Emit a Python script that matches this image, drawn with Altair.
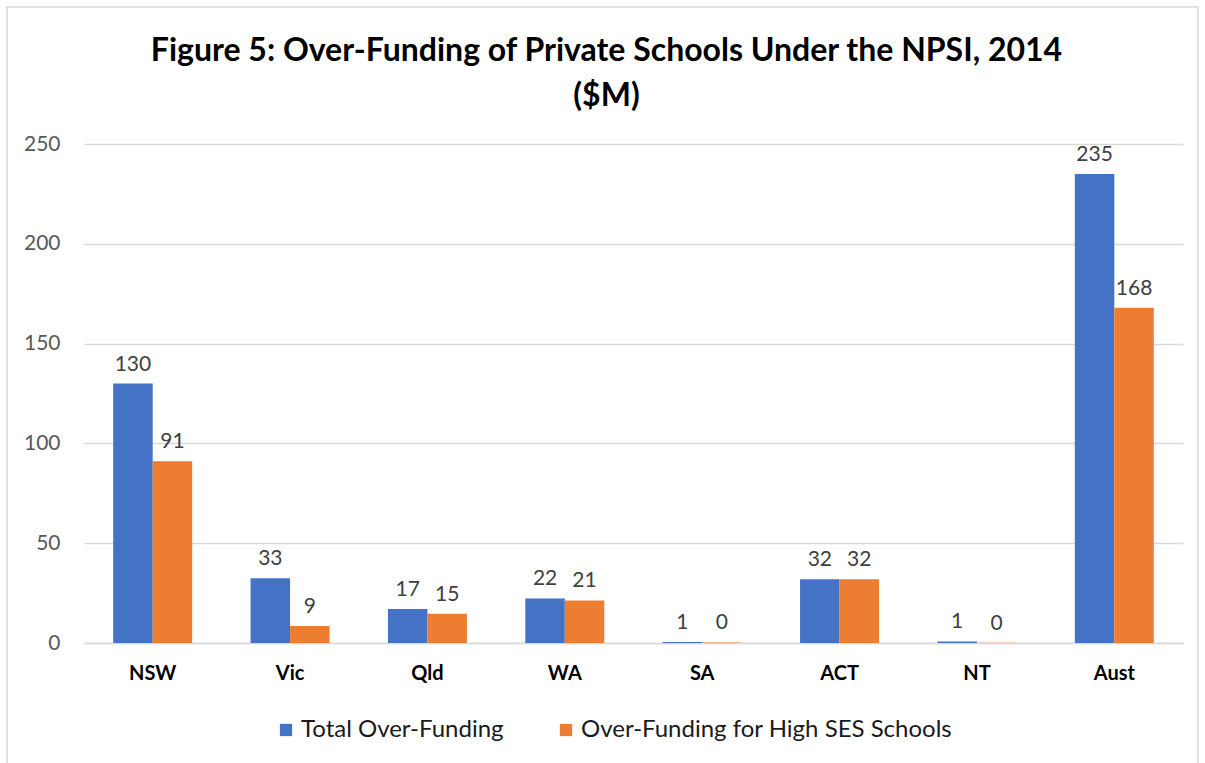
import altair as alt
import pandas as pd

categories = ["NSW", "Vic", "Qld", "WA", "SA", "ACT", "NT", "Aust"]
series_names = ["Total Over-Funding", "Over-Funding for High SES Schools"]
total_values = [130, 32.5, 17, 22.3, 0.5, 32, 0.8, 235]
high_ses_values = [91, 8.5, 14.6, 21.3, 0.3, 32, 0.1, 168]
total_labels = ["130", "33", "17", "22", "1", "32", "1", "235"]
high_ses_labels = ["91", "9", "15", "21", "0", "32", "0", "168"]
colors = ["#4472C4", "#ED7D31"]

rows = []
for i, c in enumerate(categories):
    rows.append({"cat": c, "series": series_names[0], "value": total_values[i], "label": total_labels[i]})
    rows.append({"cat": c, "series": series_names[1], "value": high_ses_values[i], "label": high_ses_labels[i]})
df = pd.DataFrame(rows)

FONT = "Lato"
W, H = 1099, 499

base = alt.Chart(df).encode(
    x=alt.X(
        "cat:N",
        sort=categories,
        title=None,
        scale=alt.Scale(paddingInner=0.425, paddingOuter=0.2125),
        axis=alt.Axis(
            labelAngle=0,
            labelFont=FONT,
            labelFontSize=20,
            labelFontWeight="bold",
            labelColor="#000000",
            labelPadding=20,
            ticks=False,
            domainColor="#d9d9d9",
            domainWidth=1.5,
            grid=False,
        ),
    ),
    xOffset=alt.XOffset("series:N", sort=series_names, scale=alt.Scale(paddingInner=0, paddingOuter=0)),
    y=alt.Y(
        "value:Q",
        title=None,
        scale=alt.Scale(domain=[0, 250], nice=False),
        axis=alt.Axis(
            values=[0, 50, 100, 150, 200, 250],
            labelFont=FONT,
            labelFontSize=21,
            labelColor="#595959",
            labelPadding=24,
            ticks=False,
            domain=False,
            gridColor="#d9d9d9",
            gridWidth=1.5,
        ),
    ),
)

bars = base.mark_bar().encode(
    color=alt.Color(
        "series:N",
        sort=series_names,
        scale=alt.Scale(domain=series_names, range=colors),
        legend=alt.Legend(
            title=None,
            orient="none",
            direction="horizontal",
            legendX=190,
            legendY=574,
            symbolType="square",
            symbolSize=150,
            symbolStrokeWidth=0,
            labelFont=FONT,
            labelFontSize=24,
            labelColor="#1a1a1a",
            labelOffset=3,
            labelLimit=600,
            columnPadding=50,
        ),
    )
)

text = base.mark_text(baseline="bottom", dy=-9, font=FONT, fontSize=21, color="#404040").encode(
    text="label:N"
)

frame = alt.Chart(pd.DataFrame({"a": [0]})).mark_rect(
    fill=None, stroke="#d9d9d9", strokeWidth=1.5, clip=False
).encode(
    x=alt.value(-77), x2=alt.value(1114), y=alt.value(-137), y2=alt.value(630)
)

chart = alt.layer(frame, bars, text).properties(
    width=W,
    height=H,
    padding={"left": 84, "top": 144, "right": 22, "bottom": 120},
    autosize=alt.AutoSizeParams(type="none"),
    title=alt.TitleParams(
        text=["Figure 5: Over-Funding of Private Schools Under the NPSI, 2014", "($M)"],
        font=FONT,
        fontSize=32,
        fontWeight="bold",
        color="#000000",
        anchor="middle",
        lineHeight=45,
        offset=36,
        dy=143,
        dx=-27,
    ),
).configure(background="white").configure_view(stroke=None)

chart.save("out.html", embed_options={"renderer": "svg", "actions": False})
